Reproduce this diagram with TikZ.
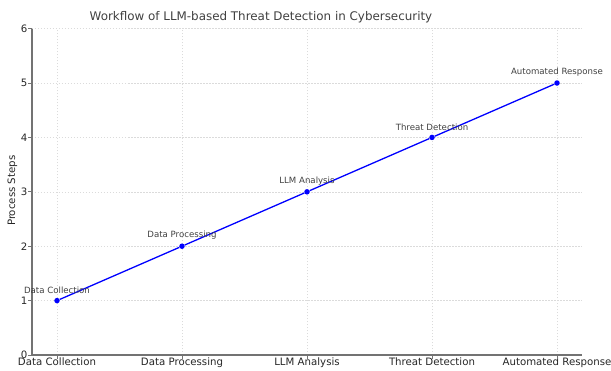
\documentclass[tikz,border=0pt]{standalone}
\usepackage{fontspec}
\setmainfont{DejaVu Sans}
\usetikzlibrary{positioning}
\definecolor{gridgray}{gray}{0.86}
\definecolor{spinegray}{gray}{0.45}
\definecolor{textgray}{gray}{0.25}
\tikzstyle{gridline} = [gridgray, line width=0.5pt, dash pattern=on 1.5pt off 1.5pt]
\tikzstyle{spine} = [spinegray, line width=1.2pt]
\tikzstyle{tick} = [spinegray, line width=0.8pt]
\tikzstyle{point} = [circle, fill=blue, inner sep=0pt, minimum size=5.5pt]
\tikzstyle{connector} = [blue, line width=1.3pt]
\tikzstyle{steplabel} = [font=\fontsize{8.6}{10}\selectfont, text=textgray, inner sep=1pt]
\tikzstyle{ticklabel} = [font=\fontsize{10.2}{12}\selectfont, text=black!85, inner sep=1pt]

\begin{document}
\begin{tikzpicture}[x=125pt, y=54.4pt]
\useasboundingbox (-0.456,-0.276) rectangle (4.432,6.526);
% grid
\foreach \y in {1,...,6} \draw[gridline] (-0.2,\y) -- (4.2,\y);
\foreach \x in {0,...,4} \draw[gridline] (\x,0) -- (\x,6);
% axes
\draw[spine] (-0.2,6) -- (-0.2,0) -- (4.2,0);
\foreach \y in {0,...,6} {
  \draw[tick] (-0.2,\y) -- ++(-3.5pt,0);
  \node[ticklabel, anchor=east] at ([xshift=-3.5pt]-0.2,\y) {\y};
}
\node(xcollection)[ticklabel, anchor=north] at ([yshift=-2pt]0,0) {Data Collection};
\node(xprocessing)[ticklabel, anchor=north] at ([yshift=-2pt]1,0) {Data Processing};
\node(xanalysis)[ticklabel, anchor=north] at ([yshift=-2pt]2,0) {LLM Analysis};
\node(xdetection)[ticklabel, anchor=north] at ([yshift=-2pt]3,0) {Threat Detection};
\node(xresponse)[ticklabel, anchor=north] at ([yshift=-2pt]4,0) {Automated Response};
\foreach \x in {0,...,4} \draw[tick] (\x,0) -- ++(0,-3.5pt);
\node(ylabel)[ticklabel, rotate=90] at (-0.356,3.02) {Process Steps};
\node(title)[font=\fontsize{11.9}{14}\selectfont, text=textgray] at (1.632,6.21) {Workflow of LLM-based Threat Detection in Cybersecurity};

% workflow steps
\node(collection)[point] at (0,1) {};
\node(processing)[point] at (1,2) {};
\node(analysis)[point] at (2,3) {};
\node(detection)[point] at (3,4) {};
\node(response)[point] at (4,5) {};
\draw[connector] (collection) -- (processing);
\draw[connector] (processing) -- (analysis);
\draw[connector] (analysis) -- (detection);
\draw[connector] (detection) -- (response);
\node(lcollection)[steplabel, above=2.5pt of collection] {Data Collection};
\node(lprocessing)[steplabel, above=2.5pt of processing] {Data Processing};
\node(lanalysis)[steplabel, above=2.5pt of analysis] {LLM Analysis};
\node(ldetection)[steplabel, above=2.5pt of detection] {Threat Detection};
\node(lresponse)[steplabel, above=2.5pt of response] {Automated Response};
\end{tikzpicture}
\end{document}
